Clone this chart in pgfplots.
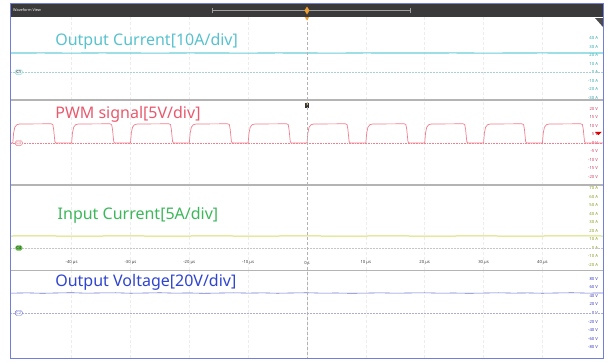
\documentclass[border=0pt]{standalone}
\usepackage{fontspec}
\setmainfont{Noto Sans}
\usepackage{pgfplots}
\pgfplotsset{compat=1.18}
\definecolor{titlebar}{HTML}{3A3A3A}
\definecolor{frameblue}{HTML}{7080D8}
\definecolor{cyanTr}{HTML}{6ACFD8}
\definecolor{cyanTx}{HTML}{58C2CE}
\definecolor{cyanTk}{HTML}{2FA5AE}
\definecolor{pwmTr}{HTML}{F0808F}
\definecolor{pwmTx}{HTML}{E85A6E}
\definecolor{pwmTk}{HTML}{D04060}
\definecolor{inTr}{HTML}{D6DC6C}
\definecolor{inTx}{HTML}{3CB85A}
\definecolor{inTk}{HTML}{8A9A20}
\definecolor{vTr}{HTML}{7075D5}
\definecolor{vTx}{HTML}{2F45D0}
\definecolor{vTk}{HTML}{3A3FC0}
\definecolor{sep}{HTML}{B4B4B4}
\definecolor{trig}{HTML}{F0A030}
\pgfplotsset{
  panel/.style={
    scale only axis, width=592pt, height=#1,
    xmin=-50.3, xmax=50.3,
    anchor=north west,
    axis line style={draw=none},
    tick style={draw=none},
    xtick={-40,-30,-20,-10,0,10,20,30,40},
    xticklabels={},
    xmajorgrids,
    grid style={densely dashed, gray!14, line width=0.4pt},
    yticklabel pos=right,
    yticklabel style={anchor=east, xshift=-1.5pt, font=\fontsize{4.2}{4.5}\selectfont},
    clip=true,
  },
}
\begin{document}
\begin{tikzpicture}[x=1pt,y=1pt]
\path[use as bounding box, fill=white] (0,0) rectangle (611,-362);
\fill[titlebar] (10,-4) rectangle (604,-17);
\node[anchor=west, text=white, inner sep=0pt, font=\fontsize{3.8}{4}\selectfont] at (13,-10.5) {Waveform View};
\draw[gray!75, line width=0.8pt] (212,-10.5) -- (410,-10.5);
\draw[gray!75, line width=0.6pt] (212,-8) -- (212,-13) (410,-8) -- (410,-13);

% Panel 1: Output current
\begin{axis}[panel=83pt, at={(11pt,-17pt)},
  ymin=-32.9, ymax=64.8,
  ytick={-30,-20,-10,0,10,20,30,40},
  yticklabels={-30 A,-20 A,-10 A,0 A,10 A,20 A,30 A,40 A},
  yticklabel style={text=cyanTk}]
\addplot[densely dotted, cyanTr!60!gray!60, line width=0.5pt] coordinates {(-50.3,0) (50.3,0)};
\addplot[cyanTr, line width=1.1pt] coordinates {
(-50.3,22.4) (-45,22.5) (-40,22.3) (-35,22.5) (-30,22.4) (-25,22.3) (-20,22.5) (-15,22.4)
(-10,22.3) (-5,22.5) (0,22.4) (5,22.3) (10,22.5) (15,22.4) (20,22.4) (25,22.5) (30,22.3)
(35,22.4) (40,22.5) (45,22.4) (50.3,22.4)};
\node[anchor=west, inner sep=0pt, text=cyanTx, font=\fontsize{16}{18}\selectfont] at (axis cs:-42.8,36.5) {Output Current[10A/div]};
\node[anchor=west, draw=cyanTr!70, fill=cyanTr!15, rounded corners=1.5pt, inner sep=1pt, font=\fontsize{4.2}{4.5}\selectfont] at (axis cs:-49.6,0) {C1};
\end{axis}

% Panel 2: PWM
\begin{axis}[panel=85pt, at={(11pt,-100pt)},
  ymin=-24.7, ymax=25.3,
  ytick={-20,-15,-10,-5,0,5,10,15,20},
  yticklabels={-20 V,-15 V,-10 V,-5 V,0 V,5 V,10 V,15 V,20 V},
  yticklabel style={text=pwmTk}]
\addplot[densely dotted, pwmTr, line width=0.6pt] coordinates {(-50.3,0) (50.3,0)};
\addplot[pwmTr, line width=0.7pt] coordinates {
(-50.3,0)
(-50,0) (-49.85,6) (-49.65,9.3) (-49.3,10.8) (-48.8,11.2) (-43.5,11.3) (-43.2,10.9) (-43.05,8) (-42.85,1) (-42.7,0)
(-40,0) (-39.85,6) (-39.65,9.3) (-39.3,10.8) (-38.8,11.2) (-33.5,11.3) (-33.2,10.9) (-33.05,8) (-32.85,1) (-32.7,0)
(-30,0) (-29.85,6) (-29.65,9.3) (-29.3,10.8) (-28.8,11.2) (-23.5,11.3) (-23.2,10.9) (-23.05,8) (-22.85,1) (-22.7,0)
(-20,0) (-19.85,6) (-19.65,9.3) (-19.3,10.8) (-18.8,11.2) (-13.5,11.3) (-13.2,10.9) (-13.05,8) (-12.85,1) (-12.7,0)
(-10,0) (-9.85,6) (-9.65,9.3) (-9.3,10.8) (-8.8,11.2) (-3.5,11.3) (-3.2,10.9) (-3.05,8) (-2.85,1) (-2.7,0)
(0,0) (0.15,6) (0.35,9.3) (0.7,10.8) (1.2,11.2) (6.5,11.3) (6.8,10.9) (6.95,8) (7.15,1) (7.3,0)
(10,0) (10.15,6) (10.35,9.3) (10.7,10.8) (11.2,11.2) (16.5,11.3) (16.8,10.9) (16.95,8) (17.15,1) (17.3,0)
(20,0) (20.15,6) (20.35,9.3) (20.7,10.8) (21.2,11.2) (26.5,11.3) (26.8,10.9) (26.95,8) (27.15,1) (27.3,0)
(30,0) (30.15,6) (30.35,9.3) (30.7,10.8) (31.2,11.2) (36.5,11.3) (36.8,10.9) (36.95,8) (37.15,1) (37.3,0)
(40,0) (40.15,6) (40.35,9.3) (40.7,10.8) (41.2,11.2) (46.5,11.3) (46.8,10.9) (46.95,8) (47.15,1) (47.3,0)
(50.3,0)};
\node[anchor=west, inner sep=0pt, text=pwmTx, font=\fontsize{16}{18}\selectfont] at (axis cs:-42.8,17.1) {PWM signal[5V/div]};
\node[anchor=west, draw=pwmTr, fill=pwmTr!12, rounded corners=1.5pt, inner sep=1pt, text=pwmTr, font=\fontsize{4.2}{4.5}\selectfont] at (axis cs:-49.6,0) {C3};
\fill[red!85!black] (axis cs:48.9,6.6) -- (axis cs:50.1,6.6) -- (axis cs:49.5,4.6) -- cycle;
\node[fill=black!80, inner sep=0.8pt, text=trig, font=\bfseries\fontsize{4.5}{4.5}\selectfont] at (axis cs:0,22.3) {T};
\end{axis}

% Panel 3: Input current
\begin{axis}[panel=85pt, at={(11pt,-185pt)},
  ymin=-25.9, ymax=74.1,
  ytick={-20,-10,0,10,20,30,40,50,60,70},
  yticklabels={-20 A,-10 A,0 A,10 A,20 A,30 A,40 A,50 A,60 A,70 A},
  yticklabel style={text=inTk},
  xticklabels={-40 µs,-30 µs,-20 µs,-10 µs,0 s,10 µs,20 µs,30 µs,40 µs},
  xticklabel style={anchor=south, yshift=1.5pt, text=black!75, font=\fontsize{4.2}{4.5}\selectfont}]
\addplot[densely dotted, gray!45, line width=0.5pt] coordinates {(-50.3,0) (50.3,0)};
\addplot[inTr, line width=1.0pt] coordinates {
(-50.3,14.1) (-45,14.2) (-40,14.0) (-35,14.1) (-30,14.2) (-25,14.0) (-20,14.1) (-15,14.2)
(-10,14.0) (-5,14.1) (0,14.2) (5,14.0) (10,14.1) (15,14.2) (20,14.0) (25,14.1) (30,14.2)
(35,14.0) (40,14.1) (45,14.2) (50.3,14.1)};
\node[anchor=west, inner sep=0pt, text=inTx, font=\fontsize{16}{18}\selectfont] at (axis cs:-42.4,38.8) {Input Current[5A/div]};
\node[anchor=west, fill=inTr!40!green!70!black!80, rounded corners=1.5pt, inner sep=1pt, text=black!80, font=\fontsize{4.2}{4.5}\selectfont] at (axis cs:-49.6,0) {C4};
\end{axis}

% Panel 4: Output voltage
\begin{axis}[panel=87pt, at={(11pt,-271pt)},
  ymin=-104.7, ymax=97.7,
  ytick={-80,-60,-40,-20,0,20,40,60,80},
  yticklabels={-80 V,-60 V,-40 V,-20 V,0 V,20 V,40 V,60 V,80 V},
  yticklabel style={text=vTk}]
\addplot[densely dotted, vTr!50!gray!60, line width=0.5pt] coordinates {(-50.3,0) (50.3,0)};
\addplot[vTr, line width=0.6pt] coordinates {
(-50.3,46.2) (-47.5,46.8) (-45,45.9) (-42.5,46.6) (-40,47.2) (-37.5,46.1) (-35,46.7) (-32.5,47.0)
(-30,46.0) (-27.5,46.5) (-25,47.1) (-22.5,46.2) (-20,46.6) (-17.5,45.8) (-15,46.4) (-12.5,47.0)
(-10,46.3) (-7.5,46.8) (-5,46.0) (-2.5,46.6) (0,47.1) (2.5,46.2) (5,46.5) (7.5,45.9) (10,46.3)
(12.5,46.9) (15,46.1) (17.5,46.6) (20,47.0) (22.5,46.2) (25,46.5) (27.5,45.9) (30,46.4)
(32.5,47.0) (35,46.3) (37.5,46.7) (40,46.0) (42.5,46.6) (45,47.1) (47.5,46.3) (50.3,46.6)};
\node[anchor=west, inner sep=0pt, text=vTx, font=\fontsize{16}{18}\selectfont] at (axis cs:-42.8,71.3) {Output Voltage[20V/div]};
\node[anchor=west, draw=vTr, fill=white, rounded corners=1.5pt, inner sep=1pt, text=vTr, font=\fontsize{4.2}{4.5}\selectfont] at (axis cs:-49.6,0) {C2};
\end{axis}

% separators, trigger line, frame
\draw[sep, line width=1.2pt] (11,-100) -- (603,-100) (11,-185) -- (603,-185) (11,-270.5) -- (603,-270.5);
\draw[densely dashed, gray!60, line width=0.5pt] (307,-17) -- (307,-358);
\draw[frameblue, line width=0.9pt] (10.5,-3.5) rectangle (603.5,-358);
\fill[trig] (307,-6.5) -- (309.5,-10.5) -- (307,-14.5) -- (304.5,-10.5) -- cycle;
\fill[trig] (304.8,-17) -- (309.2,-17) -- (307,-20.5) -- cycle;
\fill[black!70] (603,-18) -- (603,-27) -- (595,-18) -- cycle;
\end{tikzpicture}
\end{document}
